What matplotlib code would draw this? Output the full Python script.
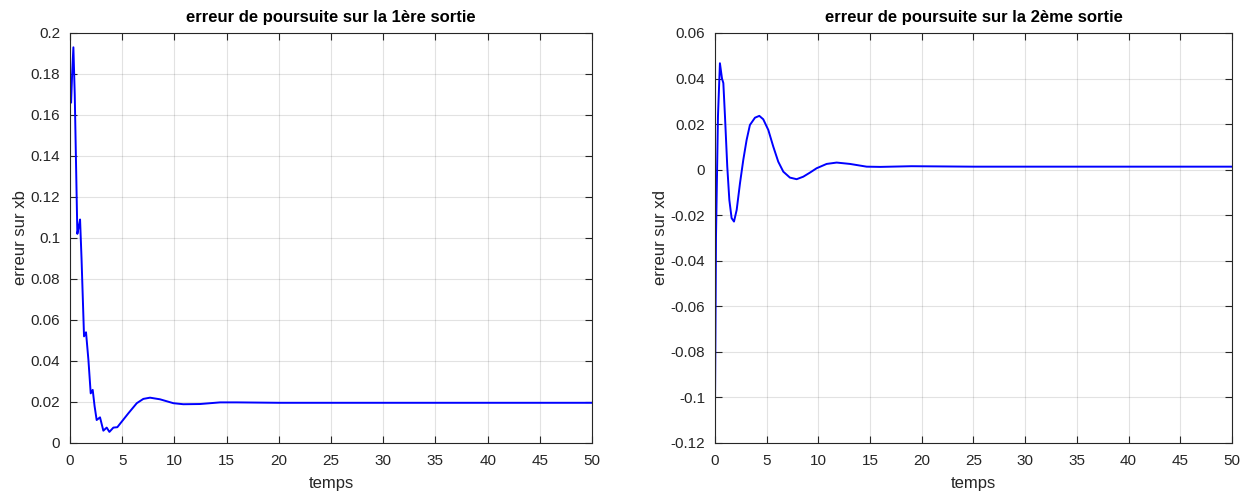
import numpy as np
import matplotlib.pyplot as plt

plt.rcParams['font.family'] = ['Liberation Sans', 'DejaVu Sans']

# sortie 1 : erreur sur xb
t1 = [0, 0.1, 0.2, 0.32, 0.45, 0.7, 0.85, 0.96, 1.1, 1.34, 1.53, 1.76, 1.98, 2.17, 2.35,
      2.55, 2.87, 3.19, 3.51, 3.77, 4.15, 4.53, 4.95, 5.59, 6.39, 7.02, 7.66, 8.62,
      9.9, 10.85, 12.45, 14.37, 15.97, 18.0, 20.0, 25.0, 30.0, 40.0, 50.0]
e1 = [0.172, 0.166, 0.180, 0.193, 0.170, 0.102, 0.106, 0.109, 0.090, 0.052, 0.054, 0.0405,
      0.0242, 0.0259, 0.018, 0.0112, 0.0125, 0.006, 0.0075, 0.0054, 0.0075, 0.0077,
      0.0104, 0.0145, 0.0194, 0.0215, 0.0221, 0.0213, 0.0194, 0.0189, 0.0190, 0.0198,
      0.0198, 0.0197, 0.0196, 0.0196, 0.0196, 0.0196, 0.0196]

# sortie 2 : erreur sur xd
t2 = [0, 0.1, 0.29, 0.48, 0.68, 0.81, 0.97, 1.19, 1.39, 1.61, 1.84, 2.1, 2.42, 2.74,
      3.06, 3.38, 3.87, 4.29, 4.67, 5.16, 5.64, 6.12, 6.61, 7.25, 7.9, 8.54, 9.19,
      9.83, 10.8, 11.77, 13.06, 14.67, 16.0, 19.0, 22.0, 25.0, 30.0, 40.0, 50.0]
e2 = [-0.107, -0.0294, 0.0233, 0.0467, 0.040, 0.038, 0.0233, 0.0013, -0.0133, -0.0213,
      -0.0228, -0.0177, -0.006, 0.0043, 0.013, 0.0196, 0.0228, 0.0236, 0.0221, 0.0174,
      0.0101, 0.0035, -0.0009, -0.0035, -0.0042, -0.0031, -0.0013, 0.0006, 0.0025,
      0.0031, 0.0025, 0.0013, 0.0012, 0.0015, 0.0014, 0.0013, 0.0013, 0.0013, 0.0013]

fig = plt.figure(figsize=(12.53, 4.97), dpi=100)
ax1 = fig.add_axes([0.0559, 0.1087, 0.4166, 0.825])
ax2 = fig.add_axes([0.5706, 0.1087, 0.4126, 0.825])

panels = [
    (ax1, t1, e1, 'erreur de poursuite sur la 1ère sortie', 'erreur sur xb',
     (0, 0.2), np.arange(0, 0.201, 0.02)),
    (ax2, t2, e2, 'erreur de poursuite sur la 2ème sortie', 'erreur sur xd',
     (-0.12, 0.06), np.arange(-0.12, 0.061, 0.02)),
]

for ax, t, e, titre, ylab, ylim, yt in panels:
    ax.plot(t, e, color='#0000ff', lw=1.4)
    ax.set_xlim(0, 50)
    ax.set_ylim(*ylim)
    ax.set_xticks(np.arange(0, 51, 5))
    ax.set_yticks(yt)
    ax.set_yticklabels(['0' if abs(v) < 1e-9 else ('%g' % round(v, 2)) for v in yt])
    ax.grid(True, color='#262626', alpha=0.13, lw=0.8)
    ax.tick_params(direction='in', top=True, right=True, labelsize=11, colors='#262626',
                   length=5)
    ax.tick_params(axis='x', pad=8)
    ax.tick_params(axis='y', pad=7)
    for s in ax.spines.values():
        s.set_color('#262626')
    ax.set_title(titre, fontsize=12, fontweight='bold', pad=8)
    ax.set_xlabel('temps', fontsize=12, color='#262626', labelpad=6)
    ax.set_ylabel(ylab, fontsize=12, color='#262626', labelpad=2)

fig.savefig('out.png', dpi=100)
